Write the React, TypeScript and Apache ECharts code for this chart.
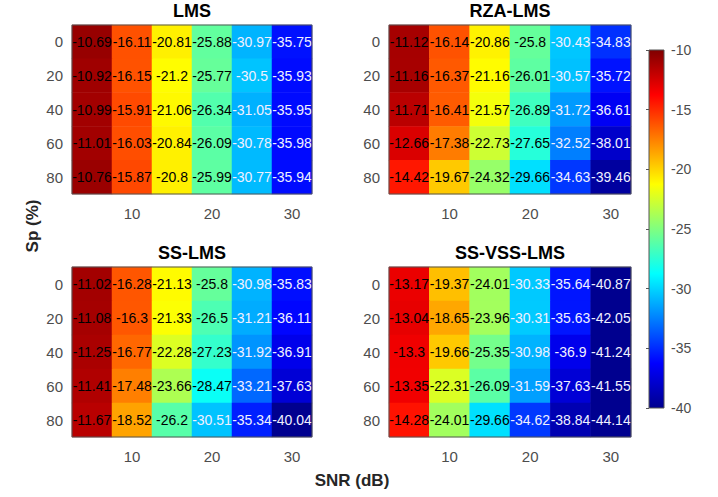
import React, { useEffect, useRef } from "react";
import * as echarts from "echarts";

const snrCategories = ["5", "10", "15", "20", "25", "30"];
const spCategories = ["0", "20", "40", "60", "80"];
const panelTitles = ["LMS", "RZA-LMS", "SS-LMS", "SS-VSS-LMS"];
const colorbarTicks = [-40, -35, -30, -25, -20, -15, -10];

// rows: Sp 0..80, columns: SNR 5..30
const lms = [
  [-10.69, -16.11, -20.81, -25.88, -30.97, -35.75],
  [-10.92, -16.15, -21.2, -25.77, -30.5, -35.93],
  [-10.99, -15.91, -21.06, -26.34, -31.05, -35.95],
  [-11.01, -16.03, -20.84, -26.09, -30.78, -35.98],
  [-10.76, -15.87, -20.8, -25.99, -30.77, -35.94],
];
const rzaLms = [
  [-11.12, -16.14, -20.86, -25.8, -30.43, -34.83],
  [-11.16, -16.37, -21.16, -26.01, -30.57, -35.72],
  [-11.71, -16.41, -21.57, -26.89, -31.72, -36.61],
  [-12.66, -17.38, -22.73, -27.65, -32.52, -38.01],
  [-14.42, -19.67, -24.32, -29.66, -34.63, -39.46],
];
const ssLms = [
  [-11.02, -16.28, -21.13, -25.8, -30.98, -35.83],
  [-11.08, -16.3, -21.33, -26.5, -31.21, -36.11],
  [-11.25, -16.77, -22.28, -27.23, -31.92, -36.91],
  [-11.41, -17.48, -23.66, -28.47, -33.21, -37.63],
  [-11.67, -18.52, -26.2, -30.51, -35.34, -40.04],
];
const ssVssLms = [
  [-13.17, -19.37, -24.01, -30.33, -35.64, -40.87],
  [-13.04, -18.65, -23.96, -30.31, -35.63, -42.05],
  [-13.3, -19.66, -25.35, -30.98, -36.9, -41.24],
  [-13.35, -22.31, -26.09, -31.59, -37.63, -41.55],
  [-14.28, -24.01, -29.66, -34.62, -38.84, -44.14],
];

const jet = [
  "#00008f", "#0000ff", "#0080ff", "#00ffff", "#80ff80",
  "#ffff00", "#ff8000", "#ff0000", "#800000",
];

const FONT = "'Liberation Sans', Arial, Helvetica, sans-serif";

export default function App() {
  const ref = useRef<HTMLDivElement>(null);
  useEffect(() => {
    if (!ref.current) return;
    const chart = echarts.init(ref.current, null, { renderer: "svg" });
    const grids = [
      { left: 72, top: 25, width: 240, height: 169 },
      { left: 389, top: 25, width: 242, height: 169 },
      { left: 72, top: 267, width: 240, height: 170 },
      { left: 389, top: 267, width: 242, height: 170 },
    ];
    const cbar = { left: 649, top: 50, width: 15, height: 358 };
    const panels = [lms, rzaLms, ssLms, ssVssLms];

    const xAxes: any[] = grids.map((_, i) => ({
      type: "category",
      gridIndex: i,
      data: snrCategories,
      axisLine: { show: false },
      axisTick: { show: false },
      splitLine: { show: false },
      axisLabel: {
        interval: (idx: number) => idx % 2 === 1,
        fontSize: 15,
        color: "#4d4d4d",
        fontFamily: FONT,
        margin: 12,
      },
    }));
    const yAxes: any[] = grids.map((_, i) => ({
      type: "category",
      gridIndex: i,
      data: spCategories,
      inverse: true,
      axisLine: { show: false },
      axisTick: { show: false },
      splitLine: { show: false },
      axisLabel: { fontSize: 15, color: "#4d4d4d", fontFamily: FONT, margin: 9 },
    }));
    xAxes.push({ type: "value", gridIndex: 4, show: false, min: 0, max: 1 });
    yAxes.push({
      type: "value",
      gridIndex: 4,
      position: "right",
      min: colorbarTicks[0],
      max: colorbarTicks[colorbarTicks.length - 1],
      interval: 5,
      axisLine: { show: false },
      axisTick: { show: true, inside: true, length: 3, lineStyle: { color: "#555" } },
      splitLine: { show: false },
      axisLabel: { fontSize: 14, color: "#4d4d4d", fontFamily: FONT, margin: 7 },
    });

    const series = panels.map((panel, i) => ({
      type: "heatmap",
      xAxisIndex: i,
      yAxisIndex: i,
      data: panel.flatMap((row, r) =>
        row.map((v, c) => ({
          value: [c, r, v],
          label: { color: v <= -30 ? "#f0f0ff" : "#000000" },
        }))
      ),
      label: {
        show: true,
        fontSize: 14,
        fontFamily: FONT,
        formatter: (p: any) => String(p.value[2]),
      },
      itemStyle: { borderWidth: 0 },
      emphasis: { disabled: true },
    }));

    const graphics: any[] = [];
    grids.forEach((g, i) => {
      graphics.push({
        type: "rect",
        shape: { x: g.left, y: g.top, width: g.width, height: g.height },
        style: { fill: "none", stroke: "#555", lineWidth: 1 },
        z: 100,
        silent: true,
      });
      graphics.push({
        type: "text",
        x: g.left + g.width / 2,
        y: g.top - 14,
        style: {
          text: panelTitles[i],
          font: `bold 18px ${FONT}`,
          fill: "#000",
          align: "center",
          verticalAlign: "middle",
          textAlign: "center",
          textVerticalAlign: "middle",
        },
      });
    });
    graphics.push({
      type: "rect",
      shape: { x: cbar.left, y: cbar.top, width: cbar.width, height: cbar.height },
      style: {
        fill: new echarts.graphic.LinearGradient(
          0, 0, 0, 1,
          jet.slice().reverse().map((c, k) => ({ offset: k / (jet.length - 1), color: c }))
        ),
        stroke: "#555",
        lineWidth: 1,
      },
      z: 0,
      silent: true,
    });
    graphics.push({
      type: "text",
      x: 352,
      y: 480,
      style: {
        text: "SNR (dB)",
        font: `bold 17px ${FONT}`,
        fill: "#262626",
        align: "center",
        verticalAlign: "middle",
        textAlign: "center",
        textVerticalAlign: "middle",
      },
    });
    graphics.push({
      type: "text",
      x: 32,
      y: 226,
      rotation: Math.PI / 2,
      style: {
        text: "Sp (%)",
        font: `bold 17px ${FONT}`,
        fill: "#262626",
        align: "center",
        verticalAlign: "middle",
        textAlign: "center",
        textVerticalAlign: "middle",
      },
    });

    chart.setOption({
      animation: false,
      backgroundColor: "#ffffff",
      grid: [...grids, cbar].map((g) => ({ ...g, containLabel: false })),
      xAxis: xAxes,
      yAxis: yAxes,
      visualMap: {
        type: "continuous",
        show: false,
        min: -40,
        max: -10,
        seriesIndex: [0, 1, 2, 3],
        inRange: { color: jet },
      },
      series,
      graphic: graphics,
    });
    return () => chart.dispose();
  }, []);
  return (
    <div
      ref={ref}
      style={{ position: "fixed", left: 0, top: 0, width: 718, height: 497 }}
    />
  );
}
